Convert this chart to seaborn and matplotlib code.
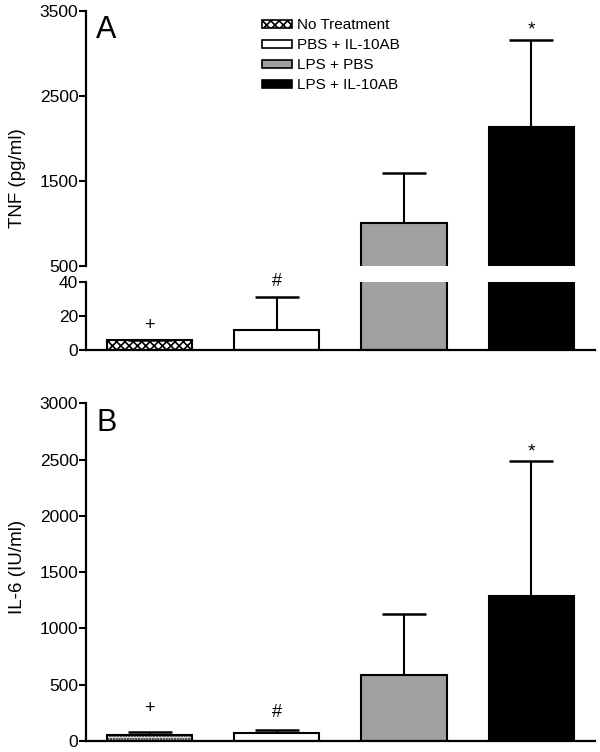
import numpy as np
import pandas as pd
import matplotlib
matplotlib.use("Agg")
import matplotlib.pyplot as plt
import seaborn as sns
from matplotlib.patches import Patch

groups = ["No Treatment", "PBS + IL-10AB", "LPS + PBS", "LPS + IL-10AB"]
tnf_mean = [6, 12, 1000, 2140]
tnf_err = [0, 19, 590, 1020]
il6_mean = [50, 68, 586, 1290]
il6_err = [32, 30, 545, 1200]
tnf_marks = ["+", "#", "", "*"]
il6_marks = ["+", "#", "", "*"]

colors = ["white", "white", "#a0a0a0", "black"]

sns.set_style("ticks")
plt.rcParams["font.family"] = ["Liberation Sans", "DejaVu Sans"]
plt.rcParams["hatch.linewidth"] = 1.2
for k in ["axes.edgecolor", "text.color", "axes.labelcolor", "xtick.color", "ytick.color"]:
    plt.rcParams[k] = "black"

fig = plt.figure(figsize=(6, 7.52), dpi=100)
ax_top = fig.add_axes([0.1433, 0.6463, 0.8483, 0.3391])
ax_bot = fig.add_axes([0.1433, 0.5346, 0.8483, 0.0904])
ax_b = fig.add_axes([0.1433, 0.0146, 0.8483, 0.4491])

tnf = pd.DataFrame({"group": groups, "value": tnf_mean})
il6 = pd.DataFrame({"group": groups, "value": il6_mean})


def draw(ax, df, err, hatch1):
    sns.barplot(data=df, x="group", y="value", hue="group", palette=colors,
                order=groups, hue_order=groups, dodge=False, width=0.67,
                edgecolor="black", linewidth=1.5, legend=False, ax=ax)
    ax.patches[0].set_hatch(hatch1)
    x = np.arange(len(groups))
    eb = ax.errorbar(x, df["value"], yerr=[np.zeros(len(err)), err], fmt="none",
                     ecolor="black", elinewidth=1.5, capsize=15.5, capthick=1.8)
    # keep only the upper caps
    for cap in eb[1]:
        if np.allclose(cap.get_ydata(), df["value"]):
            cap.set_visible(False)
    ax.set_xlim(-0.5, 3.5)
    ax.set_xlabel("")
    ax.set_xticks([])
    for s in ["top", "right"]:
        ax.spines[s].set_visible(False)
    for s in ["left", "bottom"]:
        ax.spines[s].set_linewidth(1.6)
    ax.tick_params(axis="y", direction="out", length=5, width=1.5,
                   labelsize=12.5, pad=0.5)


draw(ax_top, tnf, tnf_err, "xxxx")
draw(ax_bot, tnf, tnf_err, "xxxx")
draw(ax_b, il6, il6_err, "......")

ax_top.set_ylim(500, 3500)
ax_top.set_yticks([500, 1500, 2500, 3500])
ax_top.spines["bottom"].set_visible(False)
ax_top.set_ylabel("TNF (pg/ml)", fontsize=13.5)
ax_top.yaxis.set_label_coords(-0.118, 0.345)

ax_bot.set_ylim(0, 40)
ax_bot.set_yticks([0, 20, 40])
ax_bot.set_ylabel("")

ax_b.set_ylim(0, 3000)
ax_b.set_yticks(range(0, 3001, 500))
ax_b.set_ylabel("IL-6 (IU/ml)", fontsize=13.5)
ax_b.yaxis.set_label_coords(-0.118, 0.515)

# significance marks
ax_bot.text(0, 14.5, tnf_marks[0], ha="center", va="center", fontsize=13)
ax_bot.text(1, 40.5, tnf_marks[1], ha="center", va="center", fontsize=13, clip_on=False)
ax_top.text(3, 3280, tnf_marks[3], ha="center", va="center", fontsize=14)
ax_b.text(0, 290, il6_marks[0], ha="center", va="center", fontsize=13)
ax_b.text(1, 250, il6_marks[1], ha="center", va="center", fontsize=13)
ax_b.text(3, 2570, il6_marks[3], ha="center", va="center", fontsize=14)

ax_top.text(0.02, 0.985, "A", transform=ax_top.transAxes, fontsize=22,
            va="top", ha="left")
ax_b.text(0.02, 0.985, "B", transform=ax_b.transAxes, fontsize=22,
          va="top", ha="left")

hatches = ["xxxx", "", "", ""]
handles = [Patch(facecolor=c, edgecolor="black", hatch=h, linewidth=1.2, label=g)
           for c, h, g in zip(colors, hatches, groups)]
fig.legend(handles=handles, loc="upper left", bbox_to_anchor=(0.426, 0.984),
           frameon=False, fontsize=11, handlelength=2.0, handleheight=0.4,
           handletextpad=0.3, labelspacing=0.4, borderaxespad=0)

fig.savefig("out.png", dpi=100)
